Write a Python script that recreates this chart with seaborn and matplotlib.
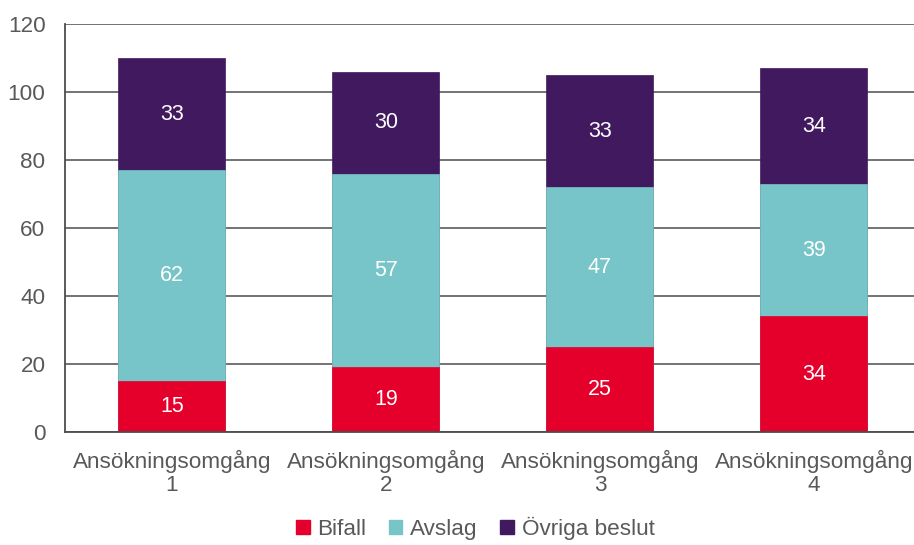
import numpy as np
import pandas as pd
import matplotlib
matplotlib.use('Agg')
import matplotlib.pyplot as plt
import seaborn as sns
from matplotlib.patches import Patch

# data
omgangar = ['Ansökningsomgång\n1', 'Ansökningsomgång\n2', 'Ansökningsomgång\n3', 'Ansökningsomgång\n4']
bifall = [15, 19, 25, 34]
avslag = [62, 57, 47, 39]
ovriga = [33, 30, 33, 34]
serier = ['Bifall', 'Avslag', 'Övriga beslut']
farger = ['#E4002B', '#77C5C8', '#41195E']

sns.set_theme(style='white')
plt.rcParams['font.family'] = ['Liberation Sans', 'DejaVu Sans']

df = pd.DataFrame({'omg': omgangar, 'Bifall': bifall, 'Avslag': avslag, 'Övriga beslut': ovriga})
df['c1'] = df['Bifall']
df['c2'] = df['c1'] + df['Avslag']
df['c3'] = df['c2'] + df['Övriga beslut']

fig = plt.figure(figsize=(9.14, 5.45), dpi=100)
ax = fig.add_axes([0.0711, 0.2073, 0.9365, 0.7486])
ax.set_axisbelow(True)
ax.yaxis.grid(True, color='#4d4d4d', linewidth=1.1)

# draw back to front so the stacks appear
for col, c in zip(['c3', 'c2', 'c1'], farger[::-1]):
    sns.barplot(data=df, x='omg', y=col, color=c, width=0.5, ax=ax,
                saturation=1, edgecolor=c, linewidth=0.5)

# segment labels
fs_lab = 15.5
for i, row in df.iterrows():
    ax.text(i, row['c1'] / 2, str(row['Bifall']), ha='center', va='center', color='white', fontsize=fs_lab)
    ax.text(i, (row['c1'] + row['c2']) / 2, str(row['Avslag']), ha='center', va='center', color='white', fontsize=fs_lab)
    ax.text(i, (row['c2'] + row['c3']) / 2, str(row['Övriga beslut']), ha='center', va='center', color='white', fontsize=fs_lab)

ax.set_ylim(0, 120)
ax.set_yticks(range(0, 121, 20))
ax.set_xlim(-0.5, 3.5)
ax.set_xlabel('')
ax.set_ylabel('')
for s in ['top', 'right']:
    ax.spines[s].set_visible(False)
for s in ['left', 'bottom']:
    ax.spines[s].set_color('#4d4d4d')
    ax.spines[s].set_linewidth(1.3)
ax.tick_params(axis='both', length=0, labelsize=16.2, colors='#595959')
ax.tick_params(axis='x', pad=13)
ax.tick_params(axis='y', pad=14)
for lab in ax.get_xticklabels():
    lab.set_linespacing(1.12)

handles = [Patch(facecolor=c, edgecolor=c) for c in farger]
fig.legend(handles, serier, loc='center', bbox_to_anchor=(0.52, 0.03), ncol=3, frameon=False,
           fontsize=16.2, handlelength=0.6, handleheight=0.6, handletextpad=0.35, columnspacing=1.0,
           labelcolor='#595959')

fig.savefig('out.png', dpi=100)
